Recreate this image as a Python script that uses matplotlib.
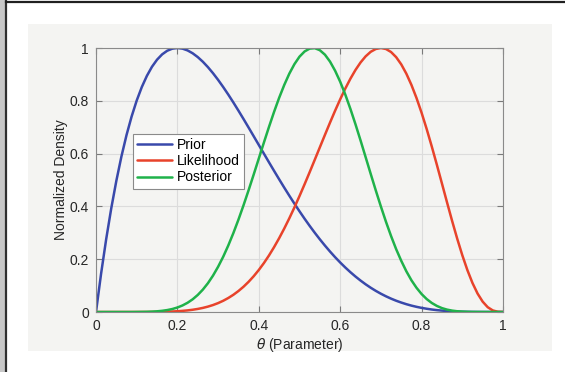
import numpy as np
import matplotlib
matplotlib.use('Agg')
import matplotlib.pyplot as plt
from matplotlib.patches import Rectangle
from matplotlib.lines import Line2D

## data (theta step 0.0125)
theta = [0.0, 0.0125, 0.025, 0.0375, 0.05, 0.0625, 0.075, 0.0875, 0.1, 0.1125,
         0.125, 0.1375, 0.15, 0.1625, 0.175, 0.1875, 0.2, 0.2125, 0.225, 0.2375,
         0.25, 0.2625, 0.275, 0.2875, 0.3, 0.3125, 0.325, 0.3375, 0.35, 0.3625,
         0.375, 0.3875, 0.4, 0.4125, 0.425, 0.4375, 0.45, 0.4625, 0.475, 0.4875,
         0.5, 0.5125, 0.525, 0.5375, 0.55, 0.5625, 0.575, 0.5875, 0.6, 0.6125,
         0.625, 0.6375, 0.65, 0.6625, 0.675, 0.6875, 0.7, 0.7125, 0.725, 0.7375,
         0.75, 0.7625, 0.775, 0.7875, 0.8, 0.8125, 0.825, 0.8375, 0.85, 0.8625,
         0.875, 0.8875, 0.9, 0.9125, 0.925, 0.9375, 0.95, 0.9625, 0.975, 0.9875, 1.0]

prior = [0.0, 0.1451, 0.2758, 0.3929, 0.4971, 0.5894, 0.6703, 0.7405, 0.8009, 0.8520,
         0.8944, 0.9289, 0.9558, 0.9759, 0.9896, 0.9975, 1.0, 0.9976, 0.9908, 0.9800,
         0.9656, 0.9480, 0.9275, 0.9045, 0.8793, 0.8522, 0.8236, 0.7937, 0.7627, 0.7309,
         0.6985, 0.6657, 0.6328, 0.5999, 0.5671, 0.5347, 0.5027, 0.4712, 0.4405, 0.4105,
         0.3815, 0.3533, 0.3262, 0.3002, 0.2753, 0.2516, 0.2290, 0.2076, 0.1875, 0.1686,
         0.1509, 0.1344, 0.1191, 0.1049, 0.0919, 0.0800, 0.0692, 0.0594, 0.0506, 0.0427,
         0.0358, 0.0296, 0.0242, 0.0196, 0.0156, 0.0123, 0.0094, 0.0071, 0.0053, 0.0038,
         0.0026, 0.0017, 0.0011, 0.0007, 0.0004, 0.0002, 0.0001, 0.0, 0.0, 0.0, 0.0]

likelihood = [0.0, 0.0, 0.0, 0.0, 0.0, 0.0, 0.0, 0.0, 0.0, 0.0001,
              0.0001, 0.0003, 0.0005, 0.0008, 0.0013, 0.0020, 0.0029, 0.0043, 0.0061, 0.0085,
              0.0116, 0.0155, 0.0204, 0.0264, 0.0337, 0.0425, 0.0530, 0.0652, 0.0795, 0.0958,
              0.1145, 0.1356, 0.1592, 0.1853, 0.2141, 0.2456, 0.2796, 0.3161, 0.3550, 0.3961,
              0.4392, 0.4839, 0.5298, 0.5767, 0.6239, 0.6710, 0.7174, 0.7626, 0.8057, 0.8463,
              0.8835, 0.9167, 0.9452, 0.9684, 0.9857, 0.9963, 1.0, 0.9962, 0.9847, 0.9653,
              0.9380, 0.9028, 0.8602, 0.8105, 0.7545, 0.6930, 0.6269, 0.5577, 0.4866, 0.4151,
              0.3449, 0.2777, 0.2151, 0.1587, 0.1099, 0.0699, 0.0393, 0.0181, 0.0059, 0.0008, 0.0]

posterior = [0.0, 0.0, 0.0, 0.0, 0.0, 0.0, 0.0, 0.0, 0.0002, 0.0004,
             0.0007, 0.0014, 0.0026, 0.0045, 0.0073, 0.0113, 0.0170, 0.0248, 0.0350, 0.0481,
             0.0646, 0.0848, 0.1091, 0.1379, 0.1713, 0.2092, 0.2519, 0.2989, 0.3499, 0.4044,
             0.4617, 0.5210, 0.5814, 0.6418, 0.7010, 0.7580, 0.8114, 0.8599, 0.9029, 0.9388,
             0.9672, 0.9869, 0.9977, 0.9994, 0.9916, 0.9747, 0.9485, 0.9139, 0.8721, 0.8237,
             0.7696, 0.7113, 0.6499, 0.5865, 0.5229, 0.4602, 0.3995, 0.3416, 0.2876, 0.2380,
             0.1939, 0.1543, 0.1202, 0.0917, 0.0680, 0.0490, 0.0342, 0.0230, 0.0147, 0.0090,
             0.0052, 0.0028, 0.0014, 0.0006, 0.0002, 0.0001, 0.0, 0.0, 0.0, 0.0, 0.0]

series_names = ['Prior', 'Likelihood', 'Posterior']
tick_vals = [0, 0.2, 0.4, 0.6, 0.8, 1]
tick_labels = ['0', '0.2', '0.4', '0.6', '0.8', '1']

colors = ['#3949ab', '#e8432b', '#1fb24a']
panel_gray = '#f4f4f2'

plt.rcParams['font.family'] = ['Liberation Sans', 'DejaVu Sans']

fig = plt.figure(figsize=(5.65, 3.72), dpi=100, facecolor='white')

# window frame bits and gray figure panel (behind the axes)
fig.patches.append(Rectangle((0, 0), 5.5 / 565, 1, transform=fig.transFigure,
                             facecolor='#c8c8c8', edgecolor='none', zorder=-10))
fig.add_artist(Line2D([6.2 / 565, 6.2 / 565], [0, 1], transform=fig.transFigure,
                      color='#303030', lw=1.6, zorder=-5))
fig.add_artist(Line2D([6.2 / 565, 1], [1 - 1.8 / 372, 1 - 1.8 / 372],
                      transform=fig.transFigure, color='#202020', lw=1.6, zorder=-5))
fig.patches.append(Rectangle((28 / 565, 1 - 351 / 372), 524 / 565, 327 / 372,
                             transform=fig.transFigure, facecolor=panel_gray,
                             edgecolor='none', zorder=-10))

ax = fig.add_axes([96 / 565, 1 - 312 / 372, 407 / 565, 264 / 372])
ax.set_facecolor(panel_gray)

for ys, name, c in zip([prior, likelihood, posterior], series_names, colors):
    ax.plot(theta, ys, color=c, lw=1.8, label=name,
            solid_capstyle='round', solid_joinstyle='round')

ax.set_xlim(0, 1)
ax.set_ylim(0, 1)
ax.set_xticks(tick_vals)
ax.set_xticklabels(tick_labels)
ax.set_yticks(tick_vals)
ax.set_yticklabels(tick_labels)
ax.grid(True, color='#dcdcdc', lw=0.8)
ax.set_axisbelow(True)
ax.tick_params(direction='in', top=True, right=True, length=4, width=0.8,
               color='#7a7a7a', labelcolor='#262626', labelsize=10, pad=5)
for s in ax.spines.values():
    s.set_color('#8a8a8a')
    s.set_linewidth(0.8)

ax.set_xlabel(r'$\theta$ (Parameter)', fontsize=10, color='#262626', labelpad=2)
ax.set_ylabel('Normalized Density', fontsize=10, color='#262626', labelpad=1)

leg = ax.legend(loc='upper left', bbox_to_anchor=(0.091, 0.674), borderaxespad=0,
                fontsize=10, frameon=True, fancybox=False, handlelength=2.5,
                handletextpad=0.35, borderpad=0.3, labelspacing=0.15)
leg.get_frame().set_facecolor('white')
leg.get_frame().set_edgecolor('#8a8a8a')
leg.get_frame().set_linewidth(0.8)
leg.get_frame().set_alpha(1)

fig.savefig('out.png', dpi=100)
